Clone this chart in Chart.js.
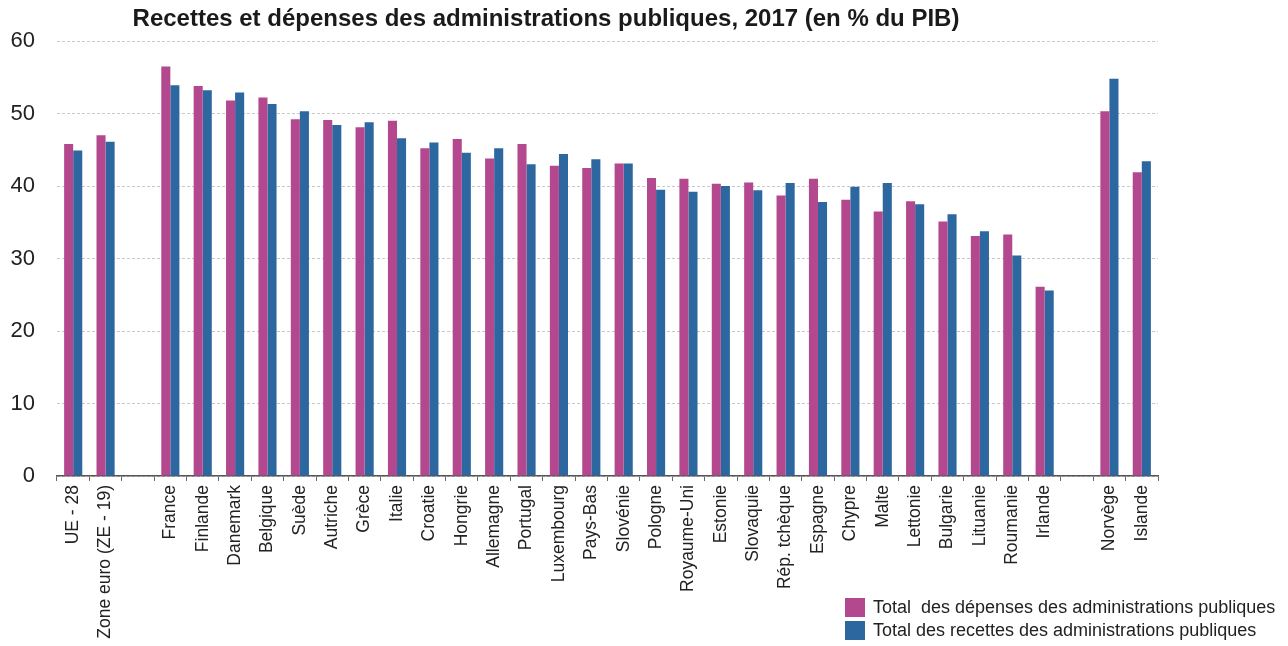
<!DOCTYPE html>
<html lang="fr">
<head>
<meta charset="utf-8">
<title>Recettes et dépenses des administrations publiques, 2017</title>
<script src="https://cdn.jsdelivr.net/npm/chart.js@4.4.1/dist/chart.umd.min.js"></script>
<style>
  html, body { margin: 0; padding: 0; background: #fff; }
  #wrap { position: relative; width: 1288px; height: 646px; font-family: "Liberation Sans", Arial, sans-serif; }
  #titre { position: absolute; left: 0; top: 3px; width: 1092px; text-align: center; font-weight: bold; font-size: 24px; line-height: 30px; color: #1a1a1a; }
  #legende { position: absolute; left: 845px; top: 596px; font-size: 18px; color: #222; }
  #legende div { height: 23px; display: flex; align-items: center; white-space: pre; }
  #legende span.carre { display: inline-block; width: 20px; height: 19px; margin-right: 8px; }
  canvas { position: absolute; left: 0; top: 0; }
</style>
</head>
<body>
<div id="wrap">
  <canvas id="graphique" width="1288" height="646"></canvas>
  <div id="titre">Recettes et dépenses des administrations publiques, 2017 (en % du PIB)</div>
  <div id="legende"></div>
</div>
<script>
// pays et agrégats ('' = espace vide entre les groupes)
var pays = ['UE - 28', 'Zone euro (ZE - 19)', '',
    'France', 'Finlande', 'Danemark', 'Belgique', 'Suède', 'Autriche', 'Grèce', 'Italie',
    'Croatie', 'Hongrie', 'Allemagne', 'Portugal', 'Luxembourg', 'Pays-Bas', 'Slovénie',
    'Pologne', 'Royaume-Uni', 'Estonie', 'Slovaquie', 'Rép. tchèque', 'Espagne', 'Chypre',
    'Malte', 'Lettonie', 'Bulgarie', 'Lituanie', 'Roumanie', 'Irlande', '',
    'Norvège', 'Islande'];

// en % du PIB
var depenses = [45.8, 47.0, null,
    56.5, 53.8, 51.8, 52.2, 49.2, 49.1, 48.1, 49.0,
    45.2, 46.5, 43.8, 45.8, 42.8, 42.5, 43.1,
    41.1, 41.0, 40.3, 40.5, 38.7, 41.0, 38.1,
    36.5, 37.9, 35.1, 33.1, 33.3, 26.1, null,
    50.3, 41.9];

var recettes = [44.9, 46.1, null,
    53.9, 53.2, 52.9, 51.3, 50.3, 48.4, 48.8, 46.6,
    46.0, 44.6, 45.2, 43.0, 44.4, 43.7, 43.1,
    39.5, 39.2, 40.0, 39.4, 40.4, 37.8, 39.9,
    40.4, 37.5, 36.1, 33.75, 30.4, 25.6, null,
    54.8, 43.4];

var couleurDepenses = '#b4488f';
var couleurRecettes = '#2c67a0';

Chart.defaults.font.family = '"Liberation Sans", Arial, sans-serif';

var ctx = document.getElementById('graphique').getContext('2d');

var graphique = new Chart(ctx, {
    type: 'bar',
    data: {
        labels: pays,
        datasets: [
            {
                label: 'Total  des dépenses des administrations publiques',
                data: depenses,
                backgroundColor: couleurDepenses,
                barPercentage: 1.0,
                categoryPercentage: 0.56
            },
            {
                label: 'Total des recettes des administrations publiques',
                data: recettes,
                backgroundColor: couleurRecettes,
                barPercentage: 1.0,
                categoryPercentage: 0.56
            }
        ]
    },
    options: {
        responsive: false,
        animation: false,
        devicePixelRatio: 1,
        layout: {
            padding: { top: 41, right: 130, bottom: 0, left: 0 }
        },
        scales: {
            x: {
                afterFit: function (scale) { scale.height = 170; },
                grid: {
                    offset: true,
                    drawOnChartArea: false,
                    drawTicks: true,
                    tickLength: 5,
                    color: '#666'
                },
                border: { color: '#555', width: 1.5 },
                ticks: {
                    autoSkip: false,
                    minRotation: 90,
                    maxRotation: 90,
                    padding: 4,
                    color: '#222',
                    font: { size: 17.5 }
                }
            },
            y: {
                min: 0,
                max: 60,
                afterFit: function (scale) { scale.width = 57; },
                grid: {
                    drawTicks: false,
                    color: '#c8c8c8',
                    lineWidth: 1
                },
                border: { display: false, dash: [3, 2] },
                ticks: {
                    stepSize: 10,
                    padding: 22,
                    color: '#222',
                    font: { size: 22 }
                }
            }
        },
        plugins: {
            legend: { display: false },
            title: { display: false },
            tooltip: { enabled: false }
        }
    }
});

// légende à droite sous le graphique
var legende = document.getElementById('legende');
graphique.data.datasets.forEach(function (ds) {
    var ligne = document.createElement('div');
    var carre = document.createElement('span');
    carre.className = 'carre';
    carre.style.background = ds.backgroundColor;
    ligne.appendChild(carre);
    ligne.appendChild(document.createTextNode(ds.label));
    legende.appendChild(ligne);
});
</script>
</body>
</html>
